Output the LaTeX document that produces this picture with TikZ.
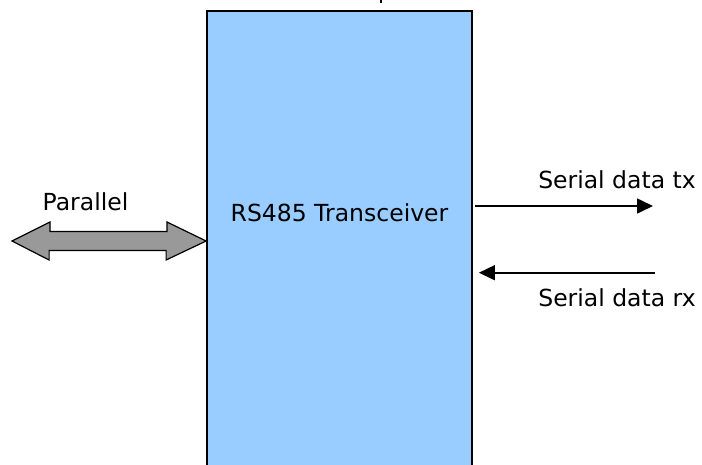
\documentclass[tikz,border=0pt]{standalone}
\usepackage{fontspec}
\setmainfont{DejaVu Sans}
\usepackage{xcolor}
\usepackage{tikz}
\usetikzlibrary{arrows.meta}
\definecolor{boxblue}{HTML}{99CCFF}
\definecolor{busgray}{HTML}{999999}

\begin{document}
\begin{tikzpicture}[x=1pt, y=-1pt,
    lbl/.style={font=\fontsize{23.5}{28}\selectfont, inner sep=0pt, anchor=base},
    sig/.style={-{Triangle[length=16pt,width=15pt]}, line width=1.6pt}]
  \useasboundingbox (0,0) rectangle (702,464);
  \clip (0,0) rectangle (702,464);
  \node[draw, line width=1.8pt, fill=boxblue, minimum width=265pt, minimum height=480pt,
        inner sep=0pt] (xcvr) at (339.5,251) {};
  \node[lbl] (xcvrtxt) at (339.5,221.5) {RS485 Transceiver};
  \draw[line width=2pt] (381,0) -- (381,3);
  % parallel bus
  \coordinate (bustip) at (12,241);
  \draw[fill=busgray, line width=1.2pt] (bustip) -- ++(38,-19) -- ++(0,9.5) -- ++(117,0)
    -- ++(0,-9.5) -- (xcvr.west |- bustip) -- ++(-40,19) -- ++(0,-9.5) -- ++(-117,0)
    -- ++(0,9.5) -- cycle;
  \node[lbl] (partxt) at (85.5,210) {Parallel};
  % serial lines
  \coordinate (txend) at (653,206);
  \coordinate (rxstart) at (655,272.7);
  \draw[sig] (xcvr.east |- txend) ++(2,0) -- (txend);
  \draw[sig] (rxstart) -- ([xshift=6pt]xcvr.east |- rxstart);
  \node[lbl] (txtxt) at (617,188.3) {Serial data tx};
  \node[lbl] (rxtxt) at (617,306.7) {Serial data rx};
\end{tikzpicture}
\end{document}
